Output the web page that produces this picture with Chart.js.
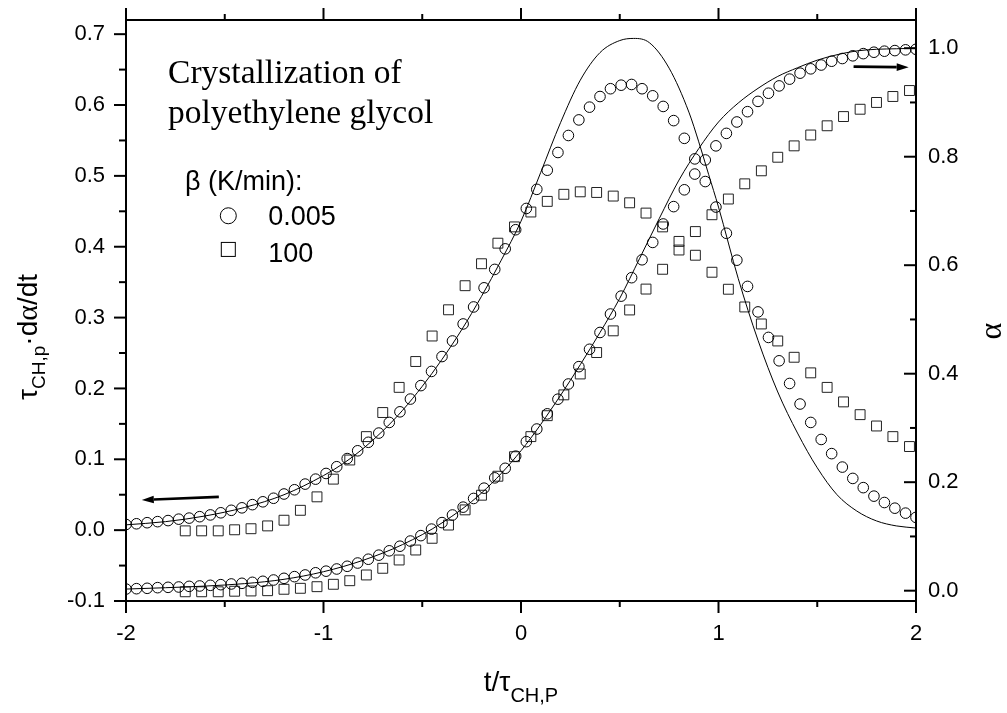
<!DOCTYPE html>
<html>
<head>
<meta charset="utf-8">
<title>Crystallization of polyethylene glycol</title>
<script src="https://cdn.jsdelivr.net/npm/chart.js@4.4.1/dist/chart.umd.min.js"></script>
<style>
  html, body { margin: 0; padding: 0; background: #fff; }
  #wrap { width: 1007px; height: 713px; }
</style>
</head>
<body>
<div id="wrap"><canvas id="chart" width="1007" height="713"></canvas></div>
<script>
// Normalised time t/tau and measured curves, slow run (beta = 0.005 K/min)
const SLOW_T = [
  -2.000, -1.947, -1.893, -1.840, -1.787, -1.733, -1.680, -1.627, -1.573, -1.520,
  -1.467, -1.413, -1.360, -1.307, -1.253, -1.200, -1.147, -1.093, -1.040, -0.987,
  -0.933, -0.880, -0.827, -0.773, -0.720, -0.667, -0.613, -0.560, -0.507, -0.453,
  -0.400, -0.347, -0.293, -0.240, -0.187, -0.133, -0.080, -0.027, 0.027, 0.080,
  0.133, 0.187, 0.240, 0.293, 0.347, 0.400, 0.453, 0.507, 0.560, 0.613,
  0.667, 0.720, 0.773, 0.827, 0.880, 0.933, 0.987, 1.040, 1.093, 1.147,
  1.200, 1.253, 1.307, 1.360, 1.413, 1.467, 1.520, 1.573, 1.627, 1.680,
  1.733, 1.787, 1.840, 1.893, 1.947, 2.000
];
const SLOW_RATE = [
  0.008, 0.009, 0.0105, 0.012, 0.0135, 0.0155, 0.017, 0.019, 0.0215, 0.0245,
  0.028, 0.0315, 0.036, 0.040, 0.045, 0.051, 0.057, 0.065, 0.072, 0.080,
  0.0895, 0.101, 0.112, 0.124, 0.137, 0.152, 0.167, 0.185, 0.204, 0.224,
  0.245, 0.267, 0.291, 0.315, 0.342, 0.368, 0.397, 0.424, 0.454, 0.481,
  0.508, 0.533, 0.557, 0.579, 0.597, 0.612, 0.623, 0.628, 0.629, 0.623,
  0.613, 0.598, 0.578, 0.553, 0.524, 0.492, 0.456, 0.419, 0.381, 0.344,
  0.308, 0.272, 0.239, 0.207, 0.178, 0.152, 0.128, 0.108, 0.089, 0.073,
  0.060, 0.048, 0.039, 0.031, 0.024, 0.018
];
const SLOW_ALPHA = [
  0.003, 0.0037, 0.0044, 0.0056, 0.0062, 0.0068, 0.008, 0.0087, 0.0099, 0.0111,
  0.0124, 0.0136, 0.0154, 0.0173, 0.0197, 0.0228, 0.0259, 0.029, 0.033, 0.036,
  0.040, 0.045, 0.051, 0.058, 0.0655, 0.0735, 0.082, 0.0915, 0.1015, 0.1135,
  0.1255, 0.1395, 0.154, 0.170, 0.189, 0.208, 0.2256, 0.248, 0.2747, 0.298,
  0.326, 0.353, 0.381, 0.413, 0.445, 0.476, 0.510, 0.543, 0.577, 0.610,
  0.642, 0.676, 0.708, 0.739, 0.768, 0.794, 0.820, 0.843, 0.864, 0.883,
  0.902, 0.917, 0.9305, 0.943, 0.954, 0.962, 0.969, 0.976, 0.981, 0.986,
  0.990, 0.9926, 0.9945, 0.9956, 0.997, 0.998
];

// Fast run (beta = 100 K/min)
const FAST_T = [
  -1.700, -1.617, -1.533, -1.450, -1.367, -1.283, -1.200, -1.117, -1.033, -0.950,
  -0.867, -0.783, -0.700, -0.617, -0.533, -0.450, -0.367, -0.283, -0.200, -0.117,
  -0.033, 0.050, 0.133, 0.217, 0.300, 0.383, 0.467, 0.550, 0.633, 0.717,
  0.800, 0.883, 0.967, 1.050, 1.133, 1.217, 1.300, 1.383, 1.467, 1.550,
  1.633, 1.717, 1.800, 1.883, 1.967
];
const FAST_RATE = [
  -0.001, -0.001, -0.001, 0.0005, 0.002, 0.006, 0.014, 0.028, 0.047, 0.072,
  0.099, 0.132, 0.166, 0.2015, 0.238, 0.274, 0.311, 0.345, 0.376, 0.405,
  0.428, 0.449, 0.464, 0.474, 0.4775, 0.4766, 0.4715, 0.462, 0.4475, 0.428,
  0.4075, 0.388, 0.364, 0.340, 0.315, 0.291, 0.267, 0.244, 0.222, 0.2015,
  0.181, 0.163, 0.147, 0.132, 0.118
];
const FAST_ALPHA = [
  -0.002, -0.002, -0.002, -0.001, -0.0005, 0.000, 0.0026, 0.0044, 0.0074, 0.0118,
  0.0184, 0.029, 0.0413, 0.0566, 0.075, 0.0966, 0.121, 0.149, 0.176, 0.211,
  0.247, 0.284, 0.3226, 0.361, 0.3995, 0.439, 0.479, 0.5175, 0.556, 0.5925,
  0.628, 0.662, 0.693, 0.722, 0.750, 0.774, 0.799, 0.820, 0.840, 0.857,
  0.874, 0.8875, 0.900, 0.911, 0.922
];

// Model curves (solid lines)
const MODEL_RATE_T = [
  -2.0, -1.8, -1.6, -1.4, -1.2, -1.0, -0.9, -0.8, -0.7, -0.6,
  -0.5, -0.4, -0.3, -0.2, -0.1, 0.0, 0.1, 0.2, 0.3, 0.4,
  0.5, 0.57, 0.65, 0.75, 0.85, 0.9, 0.95, 1.0, 1.1, 1.2,
  1.3, 1.4, 1.5, 1.6, 1.7, 1.8, 1.9, 2.0
];
const MODEL_RATE = [
  0.0075, 0.012, 0.020, 0.032, 0.050, 0.077, 0.094, 0.115, 0.140, 0.169,
  0.203, 0.241, 0.283, 0.330, 0.381, 0.436, 0.505, 0.575, 0.635, 0.674,
  0.691, 0.694, 0.688, 0.652, 0.590, 0.548, 0.502, 0.456, 0.355, 0.268,
  0.195, 0.137, 0.088, 0.050, 0.027, 0.013, 0.006, 0.003
];
const MODEL_ALPHA_T = [
  -2.0, -1.8, -1.6, -1.4, -1.2, -1.0, -0.8, -0.6, -0.4, -0.2,
  0.0, 0.2, 0.4, 0.5, 0.6, 0.7, 0.8, 0.9, 1.0, 1.1,
  1.2, 1.3, 1.4, 1.5, 1.6, 1.7, 1.8, 1.9, 2.0
];
const MODEL_ALPHA = [
  0.003, 0.0055, 0.0085, 0.013, 0.021, 0.035, 0.056, 0.085, 0.125, 0.180,
  0.258, 0.360, 0.476, 0.539, 0.612, 0.686, 0.757, 0.815, 0.864, 0.899,
  0.926, 0.948, 0.964, 0.978, 0.988, 0.995, 0.998, 0.999, 1.000
];

// Axis ticks
const X_TICKS = [-2, -1, 0, 1, 2];
const X_MINOR = [-1.5, -0.5, 0.5, 1.5];
const RATE_TICKS = [-0.1, 0.0, 0.1, 0.2, 0.3, 0.4, 0.5, 0.6, 0.7];
const RATE_MINOR = [-0.05, 0.05, 0.15, 0.25, 0.35, 0.45, 0.55, 0.65];
const ALPHA_TICKS = [0.0, 0.2, 0.4, 0.6, 0.8, 1.0];
const ALPHA_MINOR = [0.1, 0.3, 0.5, 0.7, 0.9];

const SANS = '"Liberation Sans", Arial, Helvetica, sans-serif';
const SERIF = '"Liberation Serif", "Times New Roman", serif';
const tickFont = { family: SANS, size: 22 };

const pts = (xs, ys) => xs.map((x, i) => ({ x, y: ys[i] }));

function markers(data, axis, style, radius, color) {
  return {
    data, yAxisID: axis, showLine: false,
    pointStyle: style, pointRadius: radius, pointHoverRadius: radius,
    pointBorderWidth: 1, pointBorderColor: color, pointBackgroundColor: 'rgba(0,0,0,0)'
  };
}
function curve(data, axis) {
  return {
    data, yAxisID: axis, showLine: true, pointRadius: 0,
    borderColor: '#000', borderWidth: 1, cubicInterpolationMode: 'monotone'
  };
}

// fixed scale boxes so the plot area lands where it should
function fixBox(size) {
  return s => {
    if (s.isHorizontal()) s.height = size; else s.width = size;
    s.paddingTop = 0; s.paddingBottom = 0; s.paddingLeft = 0; s.paddingRight = 0;
  };
}

function richText(ctx, parts, x, y) {
  let total = 0;
  parts.forEach(p => { ctx.font = p[1]; total += ctx.measureText(p[0]).width; });
  let cx = x - total / 2;
  parts.forEach(p => {
    ctx.font = p[1];
    ctx.fillText(p[0], cx, y + (p[2] || 0));
    cx += ctx.measureText(p[0]).width;
  });
}

function arrow(ctx, x1, y1, x2, y2) {
  const ang = Math.atan2(y2 - y1, x2 - x1);
  const head = 12, half = 3.8;
  const bx = x2 - head * Math.cos(ang), by = y2 - head * Math.sin(ang);
  ctx.lineWidth = 2.6;
  ctx.beginPath(); ctx.moveTo(x1, y1); ctx.lineTo(bx, by); ctx.stroke();
  ctx.beginPath();
  ctx.moveTo(x2, y2);
  ctx.lineTo(bx + half * Math.sin(ang), by - half * Math.cos(ang));
  ctx.lineTo(bx - half * Math.sin(ang), by + half * Math.cos(ang));
  ctx.closePath(); ctx.fill();
}

// white page, frame, tick marks, arrows and all annotation text
const decor = {
  id: 'decor',
  beforeDraw(chart) {
    const ctx = chart.ctx;
    ctx.save();
    ctx.fillStyle = '#fff';
    ctx.fillRect(0, 0, chart.width, chart.height);
    ctx.restore();
  },
  afterDraw(chart) {
    const { ctx, chartArea: a } = chart;
    const sx = chart.scales.x, sy = chart.scales.y, sa = chart.scales.y2;
    ctx.save();
    ctx.strokeStyle = '#000';
    ctx.fillStyle = '#000';
    ctx.lineWidth = 2;
    ctx.strokeRect(a.left, a.top, a.right - a.left, a.bottom - a.top);

    const seg = (x1, y1, x2, y2) => { ctx.beginPath(); ctx.moveTo(x1, y1); ctx.lineTo(x2, y2); ctx.stroke(); };
    X_TICKS.forEach(v => { const x = sx.getPixelForValue(v); seg(x, a.bottom, x, a.bottom + 12); seg(x, a.top, x, a.top - 12); });
    X_MINOR.forEach(v => { const x = sx.getPixelForValue(v); seg(x, a.bottom, x, a.bottom + 6); seg(x, a.top, x, a.top - 6); });
    RATE_TICKS.forEach(v => { const y = sy.getPixelForValue(v); seg(a.left - 12, y, a.left, y); });
    RATE_MINOR.forEach(v => { const y = sy.getPixelForValue(v); seg(a.left - 7, y, a.left, y); });
    ALPHA_TICKS.forEach(v => { const y = sa.getPixelForValue(v); seg(a.right - 12, y, a.right, y); });
    ALPHA_MINOR.forEach(v => { const y = sa.getPixelForValue(v); seg(a.right - 6, y, a.right, y); });

    // arrows pointing to the axis each curve belongs to
    arrow(ctx, sx.getPixelForValue(-1.53), sy.getPixelForValue(0.047), sx.getPixelForValue(-1.92), sy.getPixelForValue(0.0425));
    arrow(ctx, sx.getPixelForValue(1.684), sa.getPixelForValue(0.966), sx.getPixelForValue(1.963), sa.getPixelForValue(0.965));

    // note and legend block
    ctx.textAlign = 'left';
    ctx.textBaseline = 'alphabetic';
    const nx = sx.getPixelForValue(-1.787);
    ctx.font = '33.5px ' + SERIF;
    ctx.fillText('Crystallization of', nx, sy.getPixelForValue(0.631));
    ctx.fillText('polyethylene glycol', nx, sy.getPixelForValue(0.5744));

    ctx.font = '27px ' + SANS;
    ctx.fillText('\u03b2 (K/min):', sx.getPixelForValue(-1.701), sy.getPixelForValue(0.4803));
    const lx = sx.getPixelForValue(-1.28);
    ctx.fillText('0.005', lx, sy.getPixelForValue(0.4309));
    ctx.fillText('100', lx, sy.getPixelForValue(0.3789));
    const mx = sx.getPixelForValue(-1.482);
    ctx.lineWidth = 1;
    ctx.beginPath();
    ctx.arc(mx, sy.getPixelForValue(0.4437), 8, 0, Math.PI * 2);
    ctx.stroke();
    const qy = sy.getPixelForValue(0.3962);
    ctx.strokeRect(mx - 7, qy - 7, 14, 14);

    // axis titles
    const main = '28px ' + SANS, sub = '20px ' + SANS;
    richText(ctx, [['t/\u03c4', main], ['CH,P', sub, 11]], sx.getPixelForValue(0), 691);

    ctx.save();
    ctx.translate(37, 337);
    ctx.rotate(-Math.PI / 2);
    const lm = '28px ' + SANS, ls = '19px ' + SANS, lg = '30px ' + SERIF;
    richText(ctx, [['\u03c4', lm], ['CH,p', ls, 8], ['\u00b7d', lm], ['\u03b1', lg], ['/dt', lm]], 0, 0);
    ctx.restore();

    ctx.save();
    ctx.translate(1001, 331);
    ctx.rotate(-Math.PI / 2);
    ctx.textAlign = 'center';
    ctx.font = '32px ' + SERIF;
    ctx.fillText('\u03b1', 0, 0);
    ctx.restore();

    ctx.restore();
  }
};

new Chart(document.getElementById('chart'), {
  type: 'scatter',
  data: {
    datasets: [
      curve(pts(MODEL_RATE_T, MODEL_RATE), 'y'),
      curve(pts(MODEL_ALPHA_T, MODEL_ALPHA), 'y2'),
      markers(pts(SLOW_T, SLOW_RATE), 'y', 'circle', 5.3, '#000'),
      markers(pts(SLOW_T, SLOW_ALPHA), 'y2', 'circle', 5.3, '#000'),
      markers(pts(FAST_T, FAST_RATE), 'y', 'rect', 7, '#222'),
      markers(pts(FAST_T, FAST_ALPHA), 'y2', 'rect', 7, '#222')
    ]
  },
  options: {
    responsive: false,
    animation: false,
    devicePixelRatio: 1,
    layout: { padding: { top: 20, left: 0, right: 0, bottom: 0 } },
    plugins: { legend: { display: false }, tooltip: { enabled: false } },
    scales: {
      x: {
        type: 'linear', position: 'bottom', min: -2, max: 2,
        grid: { display: false, drawTicks: false }, border: { display: false },
        afterBuildTicks: s => { s.ticks = X_TICKS.map(v => ({ value: v })); },
        afterFit: fixBox(112),
        ticks: { font: tickFont, color: '#000', padding: 20, maxRotation: 0, autoSkip: false, callback: v => String(v) }
      },
      y: {
        type: 'linear', position: 'left', min: -0.1, max: 0.72,
        grid: { display: false, drawTicks: false }, border: { display: false },
        afterBuildTicks: s => { s.ticks = RATE_TICKS.map(v => ({ value: v })); },
        afterFit: fixBox(126),
        ticks: { font: tickFont, color: '#000', padding: 21, autoSkip: false, callback: v => Number(v).toFixed(1) }
      },
      y2: {
        type: 'linear', position: 'right', min: -0.019, max: 1.052,
        grid: { display: false, drawTicks: false }, border: { display: false },
        afterBuildTicks: s => { s.ticks = ALPHA_TICKS.map(v => ({ value: v })); },
        afterFit: fixBox(91),
        ticks: { font: tickFont, color: '#000', padding: 12, autoSkip: false, callback: v => Number(v).toFixed(1) }
      }
    }
  },
  plugins: [decor]
});
</script>
</body>
</html>
